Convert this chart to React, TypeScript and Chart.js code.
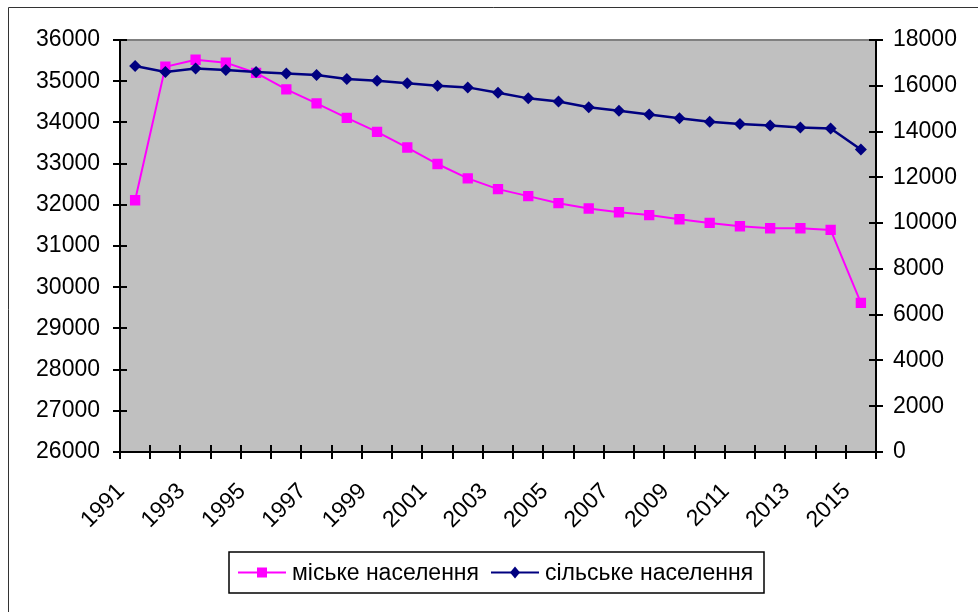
import React, { useEffect, useRef } from "react";
import { Chart, registerables } from "chart.js";

Chart.register(...registerables);

const years = [
  "1991", "1992", "1993", "1994", "1995", "1996", "1997", "1998", "1999", "2000",
  "2001", "2002", "2003", "2004", "2005", "2006", "2007", "2008", "2009", "2010",
  "2011", "2012", "2013", "2014", "2015",
];

const urbanLabel = "міське населення";
const ruralLabel = "сільське населення";

const urban = [
  32110, 35350, 35520, 35450, 35200, 34800, 34460, 34110, 33770, 33390,
  32990, 32640, 32380, 32210, 32040, 31910, 31820, 31750, 31650, 31560,
  31480, 31430, 31430, 31390, 29620,
];

const rural = [
  16860, 16600, 16750, 16690, 16600, 16540, 16470, 16300, 16220, 16110,
  16000, 15930, 15700, 15450, 15310, 15060, 14910, 14750, 14580, 14430,
  14330, 14260, 14180, 14130, 13220,
];

const FONT = "'Liberation Sans', Arial, sans-serif";
const FONT_SIZE = 23;

const decorPlugin = {
  id: "decor",
  beforeDraw(chart: any) {
    const { ctx, chartArea: a } = chart;
    ctx.save();
    ctx.fillStyle = "#ffffff";
    ctx.fillRect(0, 0, chart.width, chart.height);
    ctx.fillStyle = "#c0c0c0";
    ctx.fillRect(a.left, a.top, a.right - a.left, a.bottom - a.top);
    ctx.strokeStyle = "#808080";
    ctx.lineWidth = 2;
    ctx.beginPath();
    ctx.moveTo(a.left, a.top);
    ctx.lineTo(a.right, a.top);
    ctx.stroke();
    // outer chart border
    ctx.strokeStyle = "#333333";
    ctx.lineWidth = 1;
    ctx.beginPath();
    ctx.moveTo(8.5, chart.height);
    ctx.lineTo(8.5, 7.5);
    ctx.lineTo(chart.width, 7.5);
    ctx.stroke();
    ctx.restore();
  },
  afterDraw(chart: any) {
    const { ctx, chartArea: a, scales } = chart;
    ctx.save();
    ctx.strokeStyle = "#000000";
    ctx.lineWidth = 2;
    const yl = scales.yLeft;
    yl.ticks.forEach((t: any) => {
      const y = Math.round(yl.getPixelForValue(t.value));
      ctx.beginPath();
      ctx.moveTo(a.left - 7, y);
      ctx.lineTo(a.left + 7, y);
      ctx.stroke();
    });
    const yr = scales.yRight;
    yr.ticks.forEach((t: any) => {
      const y = Math.round(yr.getPixelForValue(t.value));
      ctx.beginPath();
      ctx.moveTo(a.right - 7, y);
      ctx.lineTo(a.right + 7, y);
      ctx.stroke();
    });
    const xs = scales.x;
    const p0 = xs.getPixelForValue(0);
    const step = xs.getPixelForValue(1) - p0;
    for (let k = 0; k <= years.length; k++) {
      const x = Math.round(p0 - step / 2 + k * step);
      ctx.beginPath();
      ctx.moveTo(x, a.bottom - 7);
      ctx.lineTo(x, a.bottom + 7);
      ctx.stroke();
    }
    // legend
    const bx = 229, by = 552, bw = 535, bh = 41;
    ctx.fillStyle = "#ffffff";
    ctx.fillRect(bx, by, bw, bh);
    ctx.strokeStyle = "#000000";
    ctx.lineWidth = 1.5;
    ctx.strokeRect(bx, by, bw, bh);
    ctx.font = `${FONT_SIZE}px ${FONT}`;
    ctx.textBaseline = "middle";
    ctx.textAlign = "left";
    const cy = by + bh / 2;
    let x = bx + 9;
    [0, 1].forEach((i) => {
      const ds = chart.data.datasets[i];
      ctx.strokeStyle = ds.borderColor;
      ctx.lineWidth = 2;
      ctx.beginPath();
      ctx.moveTo(x, cy);
      ctx.lineTo(x + 48, cy);
      ctx.stroke();
      ctx.fillStyle = ds.pointBackgroundColor;
      if (ds.pointStyle === "rect") {
        ctx.fillRect(x + 24 - 5, cy - 5, 10, 10);
      } else {
        ctx.beginPath();
        ctx.moveTo(x + 24, cy - 6);
        ctx.lineTo(x + 29, cy);
        ctx.lineTo(x + 24, cy + 6);
        ctx.lineTo(x + 19, cy);
        ctx.closePath();
        ctx.fill();
      }
      ctx.fillStyle = "#000000";
      ctx.fillText(ds.label, x + 54, cy + 1);
      x += 54 + ctx.measureText(ds.label).width + 12;
    });
    ctx.restore();
  },
};

export default function App() {
  const ref = useRef<HTMLCanvasElement | null>(null);
  useEffect(() => {
    if (!ref.current) return;
    const chart = new Chart(ref.current, {
      type: "line",
      data: {
        labels: years,
        datasets: [
          {
            label: urbanLabel,
            data: urban,
            yAxisID: "yLeft",
            borderColor: "#ff00ff",
            backgroundColor: "#ff00ff",
            pointBackgroundColor: "#ff00ff",
            pointBorderColor: "#ff00ff",
            pointStyle: "rect",
            pointRadius: 7.3,
            pointBorderWidth: 0,
            borderWidth: 2,
            tension: 0,
            order: 1,
          } as any,
          {
            label: ruralLabel,
            data: rural,
            yAxisID: "yRight",
            borderColor: "#000080",
            backgroundColor: "#000080",
            pointBackgroundColor: "#000080",
            pointBorderColor: "#000080",
            pointStyle: "rectRot",
            pointRadius: 6,
            pointBorderWidth: 0,
            borderWidth: 2.5,
            tension: 0,
            order: 0,
          } as any,
        ],
      },
      options: {
        responsive: false,
        animation: false,
        events: [],
        layout: { padding: { top: 40, left: 0, right: 0, bottom: 0 } },
        plugins: {
          legend: { display: false },
          title: { display: false },
          tooltip: { enabled: false },
        },
        scales: {
          x: {
            type: "category",
            offset: true,
            grid: { display: false, drawTicks: false },
            border: { display: true, color: "#000000", width: 2 },
            ticks: {
              autoSkip: false,
              maxRotation: 45,
              minRotation: 45,
              padding: 26,
              labelOffset: -14,
              color: "#000000",
              font: { family: FONT, size: FONT_SIZE },
              callback: (_v: any, i: number) => (i % 2 === 0 ? years[i] : ""),
            },
            afterFit: (s: any) => {
              s.height = 160;
            },
          },
          yLeft: {
            type: "linear",
            position: "left",
            min: 26000,
            max: 36000,
            grid: { display: false, drawTicks: false },
            border: { display: true, color: "#000000", width: 2 },
            ticks: {
              stepSize: 1000,
              padding: 20,
              color: "#000000",
              font: { family: FONT, size: FONT_SIZE },
              callback: (v: any) => String(v),
            },
            afterFit: (s: any) => {
              s.width = 120;
            },
          },
          yRight: {
            type: "linear",
            position: "right",
            min: 0,
            max: 18000,
            grid: { display: false, drawTicks: false },
            border: { display: true, color: "#000000", width: 2 },
            ticks: {
              stepSize: 2000,
              padding: 17,
              color: "#000000",
              font: { family: FONT, size: FONT_SIZE },
              callback: (v: any) => String(v),
            },
            afterFit: (s: any) => {
              s.width = 102;
            },
          },
        },
      } as any,
      plugins: [decorPlugin],
    });
    return () => chart.destroy();
  }, []);
  return (
    <div style={{ position: "fixed", left: 0, top: 0, width: 978, height: 612, overflow: "hidden" }}>
      <canvas ref={ref} width={978} height={612} style={{ width: 978, height: 612, display: "block" }} />
    </div>
  );
}
